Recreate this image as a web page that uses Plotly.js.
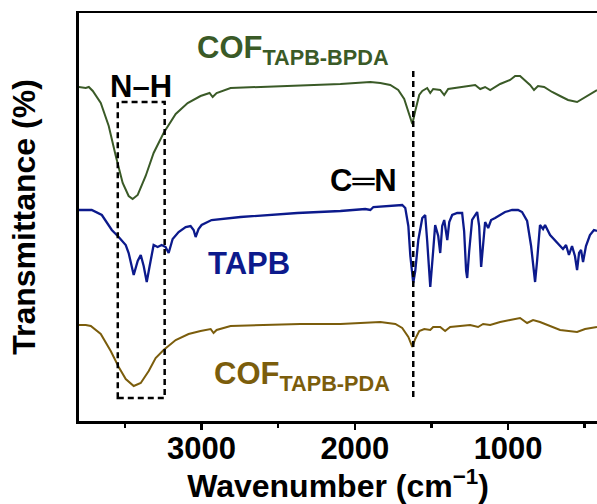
<!DOCTYPE html>
<html>
<head>
<meta charset="utf-8">
<script src="https://cdn.plot.ly/plotly-3.0.1.min.js"></script>
<style>html,body{margin:0;padding:0;background:#fff;}#chart{width:597px;height:504px;}</style>
</head>
<body>
<div id="chart"></div>
<script>
// COF TAPB-BPDA spectrum (offset transmittance, a.u.)
const cofBpdaWn = [3801,3756,3736,3710,3658,3606,3560,3515,3476,3450,3417,3365,3313,3248,3169,3091,3007,2948,2928,2902,2811,2616,2355,2094,1899,1834,1769,1717,1678,1651,1625,1606,1580,1560,1528,1508,1489,1443,1417,1391,1345,1280,1215,1182,1150,1117,1052,987,954,922,889,857,831,805,765,713,661,609,550,498,420];
const cofBpdaT  = [334,333,334,330,318,295,265,238,225,222,226,245,268,288,307,318,325,328,324,328,333,334,335,337,339,338,336,331,322,310,297,310,326,330,333,328,332,331,326,332,333,334,336,332,334,331,337,341,345,345,340,336,331,335,334,329,325,321,319,324,331];

// TAPB spectrum
const tapbWn = [3801,3717,3651,3586,3541,3495,3476,3443,3417,3397,3378,3358,3339,3313,3287,3261,3235,3215,3189,3150,3104,3072,3052,3039,3020,3000,2935,2746,2375,2094,1932,1899,1879,1801,1736,1691,1671,1651,1638,1619,1606,1586,1560,1541,1528,1508,1489,1476,1456,1443,1430,1417,1397,1384,1365,1332,1300,1287,1274,1267,1254,1235,1202,1189,1176,1163,1150,1130,1111,1085,1020,974,935,909,876,850,824,811,792,772,759,726,694,661,642,622,603,583,564,550,537,524,511,492,466,440,420];
const tapbT  = [211,211,206,191,184,176,168,146,160,166,155,139,155,176,174,176,174,168,182,189,194,195,191,184,192,196,201,204,208,210,212,211,214,215,216,216,213,195,165,138,150,181,203,206,180,134,170,196,185,168,195,201,181,199,206,208,208,190,150,143,170,201,209,195,154,180,199,193,201,203,209,211,211,209,200,175,139,160,196,192,196,186,181,176,172,176,166,175,165,151,168,171,159,175,186,191,190];

// COF TAPB-PDA spectrum
const cofPdaWn = [3801,3756,3723,3658,3593,3541,3495,3443,3397,3345,3300,3248,3169,3085,3007,2941,2922,2902,2811,2616,2355,2094,1834,1736,1691,1651,1625,1606,1580,1547,1508,1489,1443,1411,1378,1313,1248,1196,1163,1117,1052,987,922,876,837,792,726,661,550,498,420];
const cofPdaT  = [96,96,95,87,70,54,42,35,38,50,63,71,81,87,90,92,88,91,95,96,97,97,99,97,93,84,74,82,90,92,91,94,94,90,94,95,96,94,97,96,99,101,103,98,101,99,95,91,89,92,94];

const seriesColors = ['#3a5a27', '#0c1a8c', '#7b5d0c'];
const labelTexts = ['COF<sub>TAPB-BPDA</sub>', 'N\u2013H', 'C\u2550N', 'TAPB', 'COF<sub>TAPB-PDA</sub>'];

const FONT = 'Liberation Sans, Arial, sans-serif';

const traces = [
  {x: cofBpdaWn, y: cofBpdaT, mode: 'lines', line: {color: seriesColors[0], width: 2}},
  {x: tapbWn, y: tapbT, mode: 'lines', line: {color: seriesColors[1], width: 2.3}},
  {x: cofPdaWn, y: cofPdaT, mode: 'lines', line: {color: seriesColors[2], width: 2}}
];

const ann = (text, x, y, color, xanchor) => ({
  text: '<b>' + text + '</b>', x: x, y: y, xref: 'x', yref: 'y',
  showarrow: false, xanchor: xanchor, yanchor: 'middle',
  font: {family: FONT, size: 31, color: color}
});

const layout = {
  width: 597, height: 504,
  margin: {l: 79, r: 0, t: 13, b: 83},
  paper_bgcolor: '#fff', plot_bgcolor: '#fff',
  showlegend: false,
  font: {family: FONT, color: '#000'},
  xaxis: {
    range: [3800, 420],
    tickmode: 'linear', tick0: 0, dtick: 1000,
    ticks: 'outside', ticklen: 6, tickwidth: 2.5, tickcolor: '#000',
    ticklabelstandoff: -8,
    minor: {tickmode: 'linear', tick0: 0, dtick: 500, ticks: 'outside', ticklen: 4, tickwidth: 2.5, tickcolor: '#000', showgrid: false},
    showline: true, linewidth: 2.5, linecolor: '#000', mirror: true,
    showgrid: false, zeroline: false,
    tickfont: {family: FONT, size: 31, color: '#000', weight: 'bold'},
    title: {text: '<b>Wavenumber (cm<sup>\u22121</sup>)</b>', font: {family: FONT, size: 32, color: '#000'}, standoff: 0}
  },
  yaxis: {
    range: [0, 408],
    showticklabels: false, ticks: '',
    showline: true, linewidth: 3, linecolor: '#000', mirror: false,
    showgrid: false, zeroline: false,
    title: {text: '<b>Transmittance (%)</b>', font: {family: FONT, size: 32, color: '#000'}, standoff: 31}
  },
  shapes: [
    {type: 'rect', xref: 'x', yref: 'y', x0: 3547, x1: 3241, y0: 23, y1: 319,
     line: {color: '#000', width: 2.5, dash: '6px,4px'}},
    {type: 'line', xref: 'x', yref: 'y', x0: 1619, x1: 1619, y0: 24, y1: 352,
     line: {color: '#000', width: 2.5, dash: '6px,4px'}}
  ],
  annotations: [
    ann(labelTexts[0], 3040, 371, seriesColors[0], 'left'),
    ann(labelTexts[1], 3397, 335, '#000', 'center'),
    ann(labelTexts[2], 1945, 241, '#000', 'center'),
    ann(labelTexts[3], 2694, 158, seriesColors[1], 'center'),
    ann(labelTexts[4], 2935, 45, seriesColors[2], 'left')
  ]
};

Plotly.newPlot('chart', traces, layout, {staticPlot: true, displayModeBar: false});
</script>
</body>
</html>
